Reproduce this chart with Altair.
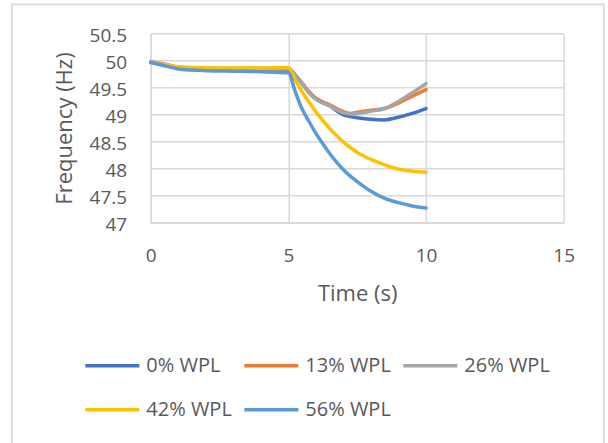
import altair as alt
import pandas as pd

times = [0, 0.5, 1, 1.5, 2, 3, 4, 5, 5.25, 5.5, 5.75, 6, 6.25, 6.5, 6.75, 7, 7.25, 7.5, 8, 8.5, 9, 9.5, 10]

wpl_0 = [49.97, 49.92, 49.87, 49.85, 49.84, 49.84, 49.84, 49.84, 49.72, 49.57, 49.41, 49.29, 49.22, 49.16,
         49.07, 48.99, 48.96, 48.94, 48.91, 48.90, 48.95, 49.02, 49.11]
wpl_13 = [49.97, 49.93, 49.87, 49.85, 49.85, 49.85, 49.85, 49.85, 49.73, 49.58, 49.42, 49.30, 49.23, 49.18,
          49.11, 49.05, 49.02, 49.04, 49.08, 49.11, 49.21, 49.34, 49.46]
wpl_26 = [49.97, 49.93, 49.87, 49.85, 49.85, 49.85, 49.85, 49.85, 49.73, 49.57, 49.40, 49.28, 49.21, 49.16,
          49.09, 49.03, 49.01, 49.02, 49.06, 49.11, 49.24, 49.40, 49.57]
wpl_42 = [49.96, 49.92, 49.88, 49.87, 49.86, 49.86, 49.86, 49.87, 49.64, 49.42, 49.23, 49.05, 48.89, 48.74,
          48.61, 48.49, 48.39, 48.30, 48.17, 48.07, 47.99, 47.95, 47.93]
wpl_56 = [49.96, 49.90, 49.84, 49.82, 49.81, 49.80, 49.79, 49.77, 49.42, 49.10, 48.87, 48.65, 48.46, 48.28,
          48.12, 47.98, 47.86, 47.76, 47.58, 47.45, 47.37, 47.31, 47.27]

series_names = ["0% WPL", "13% WPL", "26% WPL", "42% WPL", "56% WPL"]
series_values = [wpl_0, wpl_13, wpl_26, wpl_42, wpl_56]
series_colors = ["#4472C4", "#ED7D31", "#A5A5A5", "#FFC000", "#5B9BD5"]

x_ticks = [0, 5, 10, 15]
y_ticks = [47, 47.5, 48, 48.5, 49, 49.5, 50, 50.5]

rows = []
for name, vals in zip(series_names, series_values):
    for t, v in zip(times, vals):
        rows.append({"Time": t, "Frequency": v, "Series": name})
df = pd.DataFrame(rows)

FONT = "Open Sans"
TXT = "#595959"
GRID = "#d9d9d9"
W, H = 413, 189.4

lines = alt.Chart(df).mark_line(interpolate="monotone", strokeWidth=3.5, strokeCap="round").encode(
    x=alt.X("Time:Q", scale=alt.Scale(domain=[0, 15], nice=False),
            axis=alt.Axis(values=x_ticks, title="Time (s)", labelPadding=24, titleY=77.3,
                          titleBaseline="alphabetic")),
    y=alt.Y("Frequency:Q", scale=alt.Scale(domain=[47, 50.5], nice=False, zero=False),
            axis=alt.Axis(values=y_ticks, format=".4~g", title="Frequency (Hz)", labelPadding=24,
                          labelOffset=2, titleX=-79.7, titleY=H / 2, titleAngle=-90,
                          titleBaseline="alphabetic")),
    color=alt.Color("Series:N", scale=alt.Scale(domain=series_names, range=series_colors),
                    sort=series_names,
                    legend=alt.Legend(title=None, orient="none", direction="horizontal",
                                      legendX=-67.4, legendY=303.5,
                                      columns=3, symbolType="stroke", symbolSize=2916,
                                      symbolStrokeWidth=3.5, labelFont=FONT, labelFontSize=20,
                                      labelColor=TXT, labelOffset=5, rowPadding=5,
                                      columnPadding=5, gridAlign="all", padding=0)),
)

frame = alt.Chart(pd.DataFrame({"k": [0]})).mark_rect(fill=None, stroke=GRID, strokeWidth=1.7).encode(
    x=alt.value(-138.9), x2=alt.value(453.1), y=alt.value(-29.0), y2=alt.value(430)
)

chart = alt.layer(frame, lines).properties(
    width=W, height=H,
    padding={"left": 150.7, "top": 33.3, "right": 608 - 150.7 - W, "bottom": 443 - 33.3 - H},
    autosize=alt.AutoSizeParams(type="none"),
    background="white",
).configure_axis(
    grid=True, gridColor=GRID, gridWidth=1.5, domainColor=GRID, domainWidth=1.5,
    ticks=False, tickSize=0, labelFont=FONT, labelFontSize=19, labelColor=TXT,
    labelFlush=False, labelOverlap=False,
    titleFont=FONT, titleFontSize=22, titleFontWeight="normal", titleColor=TXT,
).configure_view(stroke=None)

chart.save("out.html", embed_options={"renderer": "svg", "actions": False})
